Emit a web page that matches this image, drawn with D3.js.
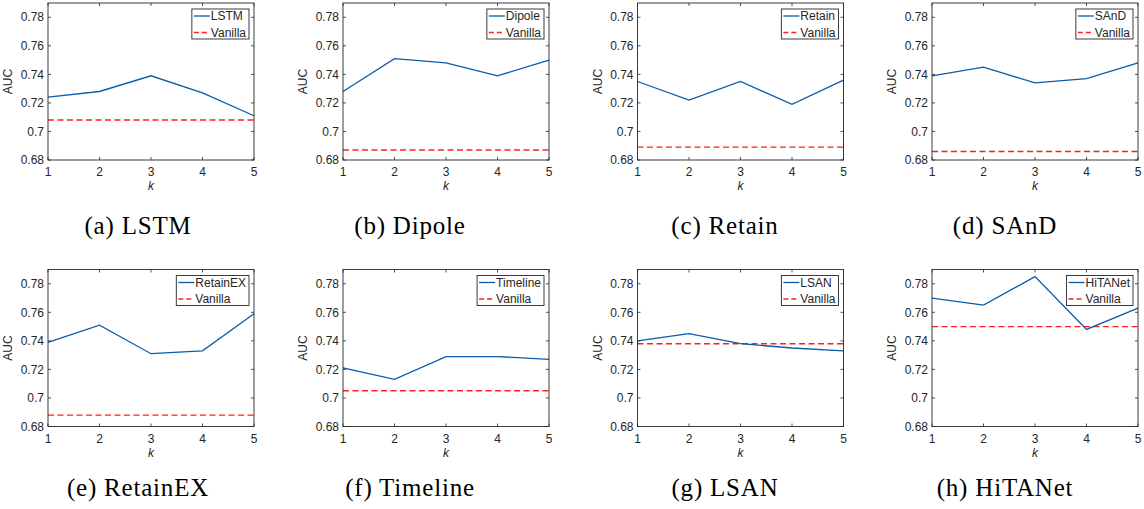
<!DOCTYPE html>
<html>
<head>
<meta charset="utf-8">
<script src="https://cdn.jsdelivr.net/npm/d3@7"></script>
<style>
  body { margin: 0; background: #fff; }
  svg { display: block; }
  .tick-label { font-family: "Liberation Sans", Arial, sans-serif; font-size: 12px; fill: #262626; }
  .caption { font-family: "Liberation Serif", "DejaVu Serif", serif; font-size: 25px; letter-spacing: 0.8px; fill: #000; }
</style>
</head>
<body>
<svg id="chart" width="1144" height="509"></svg>
<script>
// values
const models = ['LSTM', 'Dipole', 'Retain', 'SAnD', 'RetainEX', 'Timeline', 'LSAN', 'HiTANet']
const captions = ['(a) LSTM', '(b) Dipole', '(c) Retain', '(d) SAnD', '(e) RetainEX', '(f) Timeline', '(g) LSAN', '(h) HiTANet']
const kValues = [1, 2, 3, 4, 5]
const aucByK = [
  [0.724, 0.728, 0.739, 0.727, 0.711],
  [0.728, 0.751, 0.748, 0.739, 0.750],
  [0.735, 0.722, 0.735, 0.719, 0.736],
  [0.739, 0.745, 0.734, 0.737, 0.748],
  [0.739, 0.751, 0.731, 0.733, 0.759],
  [0.721, 0.713, 0.729, 0.729, 0.727],
  [0.740, 0.745, 0.738, 0.735, 0.733],
  [0.770, 0.765, 0.785, 0.748, 0.763]
]
const vanilla = [0.708, 0.687, 0.689, 0.686, 0.688, 0.705, 0.738, 0.750]
const yTicks = [0.68, 0.7, 0.72, 0.74, 0.76, 0.78]

const blue = '#0b5ba8'
const red = '#ff1f1f'
const ink = '#262626'

const colLeft = [48, 343, 637.5, 932]
const rowTop = [3, 269.5]
const captionX = [138, 410, 725, 1005]
const captionY = [234, 496]
const w = 206, h = 157

const svg = d3.select('#chart')

function drawPanel(i) {
  const col = i % 4, row = Math.floor(i / 4)
  const g = svg.append('g')
    .attr('transform', `translate(${colLeft[col]},${rowTop[row]})`)

  const x = d3.scaleLinear().domain([1, 5]).range([0, w])
  const y = d3.scaleLinear().domain([0.68, 0.79]).range([h, 0])

  // inward ticks on all four sides (matlab box style)
  const tl = 3
  const yt = g.append('g')
  yTicks.forEach(t => {
    yt.append('line').attr('x1', 0).attr('x2', tl).attr('y1', y(t)).attr('y2', y(t))
    yt.append('line').attr('x1', w).attr('x2', w - tl).attr('y1', y(t)).attr('y2', y(t))
  })
  kValues.forEach(k => {
    yt.append('line').attr('x1', x(k)).attr('x2', x(k)).attr('y1', h).attr('y2', h - tl)
    yt.append('line').attr('x1', x(k)).attr('x2', x(k)).attr('y1', 0).attr('y2', tl)
  })
  yt.selectAll('line').attr('stroke', ink).attr('stroke-width', 0.8)

  g.selectAll('text.ylab')
    .data(yTicks)
    .enter()
    .append('text')
    .attr('class', 'tick-label')
    .attr('x', -4)
    .attr('y', d => y(d))
    .attr('dy', '0.35em')
    .attr('text-anchor', 'end')
    .text(d => String(+d.toFixed(2)))

  g.selectAll('text.xlab')
    .data(kValues)
    .enter()
    .append('text')
    .attr('class', 'tick-label')
    .attr('x', d => x(d))
    .attr('y', h + 16)
    .attr('text-anchor', 'middle')
    .text(d => d)

  g.append('text')
    .attr('class', 'tick-label')
    .attr('transform', `translate(-36,${h / 2}) rotate(-90)`)
    .attr('text-anchor', 'middle')
    .text('AUC')

  g.append('text')
    .attr('class', 'tick-label')
    .attr('x', w / 2)
    .attr('y', h + 30)
    .attr('text-anchor', 'middle')
    .style('font-style', 'italic')
    .text('k')

  g.append('line')
    .attr('x1', 0).attr('x2', w)
    .attr('y1', y(vanilla[i])).attr('y2', y(vanilla[i]))
    .attr('stroke', red)
    .attr('stroke-width', 1.4)
    .attr('stroke-dasharray', '6,3.5')

  const line = d3.line()
    .x((d, j) => x(kValues[j]))
    .y(d => y(d))
  g.append('path')
    .datum(aucByK[i])
    .attr('d', line)
    .attr('fill', 'none')
    .attr('stroke', blue)
    .attr('stroke-width', 1.3)

  g.append('rect')
    .attr('width', w).attr('height', h)
    .attr('fill', 'none')
    .attr('stroke', ink)
    .attr('stroke-width', 0.9)

  // legend
  const leg = g.append('g')
  const items = [{ name: models[i], color: blue, dash: null }, { name: 'Vanilla', color: red, dash: '5,3' }]
  const labels = leg.selectAll('text')
    .data(items)
    .enter()
    .append('text')
    .attr('class', 'tick-label')
    .attr('dy', '0.35em')
    .text(d => d.name)
  let maxW = 0
  labels.each(function () { maxW = Math.max(maxW, this.getComputedTextLength()) })
  const boxW = 19 + maxW + 3
  const bx = w - 5 - boxW, by = 6
  leg.attr('transform', `translate(${bx},${by})`)
  labels.attr('x', 19)
    .attr('y', (d, j) => j * 16.5 + 7)
  leg.selectAll('line')
    .data(items)
    .enter()
    .append('line')
    .attr('x1', 2).attr('x2', 18)
    .attr('y1', (d, j) => j * 16.5 + 7).attr('y2', (d, j) => j * 16.5 + 7)
    .attr('stroke', d => d.color)
    .attr('stroke-width', 1.3)
    .attr('stroke-dasharray', d => d.dash)
  leg.insert('rect', ':first-child')
    .attr('width', boxW).attr('height', 30)
    .attr('fill', '#fff')
    .attr('stroke', ink)
    .attr('stroke-width', 0.9)

  svg.append('text')
    .attr('class', 'caption')
    .attr('x', captionX[col])
    .attr('y', captionY[row])
    .attr('text-anchor', 'middle')
    .text(captions[i])
}

models.forEach((m, i) => drawPanel(i))
</script>
</body>
</html>
